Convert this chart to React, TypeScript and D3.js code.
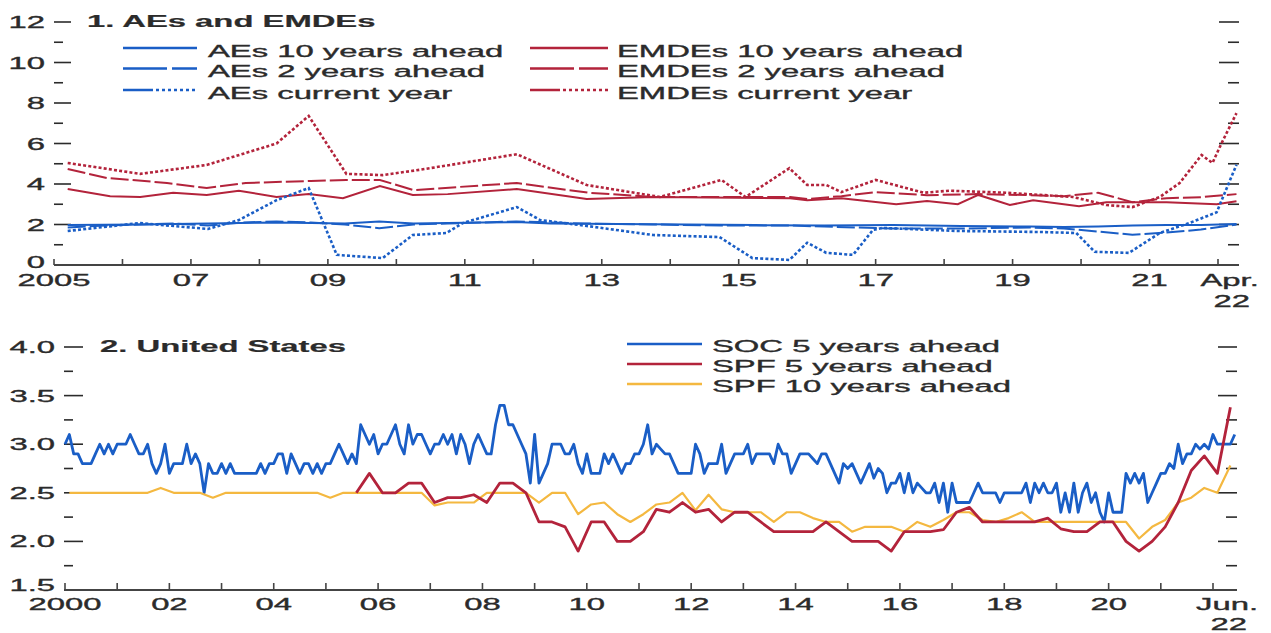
import * as React from "react";
import * as d3 from "d3";

// ---- panel 1: AEs and EMDEs (percent), [time, value] pairs
const aes10: [number, number][] = [
  [2005.2, 1.98], [2006.25, 2.0], [2007.25, 2.05], [2008.25, 2.1], [2008.75, 2.08],
  [2009.25, 2.05], [2009.75, 2.15], [2010.25, 2.05], [2011.25, 2.1], [2011.75, 2.12],
  [2012.25, 2.05], [2013.25, 2.02], [2014.25, 2.0], [2015.25, 1.97], [2016.25, 1.95],
  [2017.25, 1.97], [2018.25, 1.93], [2019.25, 1.9], [2019.75, 1.88], [2020.25, 1.9],
  [2020.75, 1.95], [2021.25, 1.97], [2021.75, 1.97], [2022.27, 2.02],
];
const aes2: [number, number][] = [
  [2005.2, 1.85], [2005.75, 1.95], [2006.25, 2.0], [2006.75, 2.05], [2007.25, 1.95],
  [2007.75, 2.1], [2008.25, 2.15], [2008.75, 2.1], [2009.25, 2.0], [2009.75, 1.82],
  [2010.25, 2.0], [2010.75, 2.05], [2011.25, 2.1], [2011.75, 2.15], [2012.25, 2.1],
  [2012.75, 2.05], [2013.75, 2.0], [2014.75, 1.95], [2015.75, 1.95], [2016.25, 1.9],
  [2016.75, 1.85], [2017.25, 1.8], [2018.25, 1.8], [2019.25, 1.85], [2019.75, 1.8],
  [2020.25, 1.65], [2020.75, 1.5], [2021.25, 1.6], [2021.75, 1.75], [2022.27, 2.0],
];
const aesCur: [number, number][] = [
  [2005.2, 1.68], [2006.25, 2.07], [2007.25, 1.78], [2007.7, 2.22], [2008.25, 3.2],
  [2008.72, 3.8], [2009.13, 0.5], [2009.8, 0.34], [2010.24, 1.48], [2010.73, 1.58],
  [2010.97, 2.07], [2011.76, 2.86], [2012.1, 2.22], [2012.78, 1.93], [2013.75, 1.48],
  [2014.72, 1.38], [2015.2, 0.34], [2015.74, 0.25], [2016.0, 1.1], [2016.28, 0.6],
  [2016.67, 0.5], [2016.96, 1.73], [2017.1, 1.83], [2018.2, 1.68], [2019.4, 1.63],
  [2019.93, 1.58], [2020.2, 0.65], [2020.7, 0.6], [2021.15, 1.58], [2021.58, 2.07],
  [2021.98, 2.6], [2022.27, 4.95],
];
const emdes10: [number, number][] = [
  [2005.2, 3.75], [2005.82, 3.4], [2006.26, 3.36], [2006.74, 3.57], [2007.23, 3.46],
  [2007.7, 3.67], [2008.25, 3.36], [2008.72, 3.5], [2009.22, 3.3], [2009.76, 3.9],
  [2010.24, 3.46], [2010.75, 3.5], [2011.76, 3.75], [2012.78, 3.26], [2013.75, 3.36],
  [2015.75, 3.3], [2016.0, 3.2], [2016.5, 3.3], [2017.3, 3.0], [2017.75, 3.16],
  [2018.2, 3.0], [2018.5, 3.46], [2018.96, 2.96], [2019.3, 3.2], [2019.97, 2.9],
  [2020.37, 3.1], [2021.25, 3.1], [2021.98, 3.0], [2022.27, 3.15],
];
const emdes2: [number, number][] = [
  [2005.2, 4.74], [2005.77, 4.3], [2006.65, 4.05], [2007.23, 3.8], [2007.8, 4.05],
  [2008.75, 4.15], [2009.27, 4.2], [2009.76, 4.2], [2010.25, 3.7], [2011.76, 4.05],
  [2012.8, 3.57], [2013.75, 3.36], [2014.75, 3.36], [2015.75, 3.36], [2016.0, 3.26],
  [2016.5, 3.4], [2017.0, 3.6], [2017.75, 3.45], [2018.5, 3.5], [2019.25, 3.45],
  [2019.75, 3.4], [2020.25, 3.57], [2020.75, 3.1], [2021.25, 3.3], [2021.75, 3.35],
  [2022.27, 3.5],
];
const emdesCur: [number, number][] = [
  [2005.2, 5.04], [2006.26, 4.5], [2007.23, 4.94], [2008.25, 6.0], [2008.72, 7.36],
  [2009.27, 4.5], [2009.8, 4.44], [2010.34, 4.7], [2011.76, 5.47], [2012.78, 3.95],
  [2013.85, 3.36], [2014.75, 4.2], [2015.1, 3.36], [2015.74, 4.78], [2016.0, 3.95],
  [2016.28, 3.95], [2016.5, 3.6], [2017.0, 4.2], [2017.7, 3.57], [2018.08, 3.67],
  [2018.9, 3.57], [2019.88, 3.36], [2020.37, 2.96], [2020.75, 2.86], [2021.15, 3.36],
  [2021.44, 4.05], [2021.76, 5.43], [2021.92, 5.04], [2022.05, 6.0], [2022.27, 7.5],
];

// ---- panel 2: United States
// SOC 5 years ahead, monthly Jan 2000 - Jun 2022
const soc2000 = [3.0, 3.1, 2.9, 2.9, 2.8, 2.8, 2.8, 2.9, 3.0, 2.9, 3.0, 2.9];
const soc2001 = [3.0, 3.0, 3.0, 3.1, 3.0, 2.9, 2.9, 3.0, 2.8, 2.7, 2.8, 3.0];
const soc2002 = [2.7, 2.8, 2.8, 2.8, 3.0, 2.8, 2.9, 2.8, 2.5, 2.8, 2.7, 2.7];
const soc2003 = [2.8, 2.7, 2.8, 2.7, 2.7, 2.7, 2.7, 2.7, 2.7, 2.8, 2.7, 2.8];
const soc2004 = [2.8, 2.9, 2.9, 2.7, 2.9, 2.8, 2.7, 2.8, 2.8, 2.7, 2.8, 2.7];
const soc2005 = [2.8, 2.8, 2.9, 3.0, 2.9, 2.8, 2.9, 2.8, 3.2, 3.1, 3.0, 3.1];
const soc2006 = [2.9, 3.0, 3.0, 3.1, 3.2, 3.0, 2.9, 3.2, 3.0, 3.1, 3.1, 3.0];
const soc2007 = [2.9, 3.0, 3.0, 3.1, 3.0, 3.1, 2.9, 3.1, 3.0, 2.8, 3.0, 3.1];
const soc2008 = [3.0, 2.9, 2.9, 3.2, 3.4, 3.4, 3.2, 3.2, 3.1, 3.0, 2.9, 2.6];
const soc2009 = [3.1, 2.6, 2.7, 2.8, 3.0, 3.0, 3.0, 2.9, 2.9, 3.0, 2.8, 2.7];
const soc2010 = [2.9, 2.7, 2.7, 2.7, 2.9, 2.8, 2.9, 2.8, 2.7, 2.8, 2.8, 2.9];
const soc2011 = [2.9, 3.0, 3.2, 2.9, 3.0, 2.95, 2.9, 2.9, 2.8, 2.7, 2.7, 2.7];
const soc2012 = [2.7, 3.0, 2.9, 2.7, 2.8, 2.8, 2.8, 3.0, 2.7, 2.8, 2.9, 2.9];
const soc2013 = [2.9, 3.0, 2.8, 2.9, 2.9, 2.9, 2.9, 2.8, 3.0, 2.9, 2.9, 2.7];
const soc2014 = [2.8, 2.9, 2.9, 2.9, 2.85, 2.8, 2.9, 2.9, 2.8, 2.7, 2.6, 2.8];
const soc2015 = [2.75, 2.8, 2.7, 2.6, 2.7, 2.8, 2.65, 2.75, 2.7, 2.5, 2.6, 2.6];
const soc2016 = [2.7, 2.5, 2.7, 2.5, 2.6, 2.55, 2.5, 2.5, 2.6, 2.4, 2.6, 2.3];
const soc2017 = [2.6, 2.4, 2.4, 2.4, 2.4, 2.5, 2.6, 2.5, 2.5, 2.5, 2.5, 2.4];
const soc2018 = [2.5, 2.5, 2.5, 2.5, 2.5, 2.6, 2.4, 2.6, 2.5, 2.6, 2.5, 2.5];
const soc2019 = [2.6, 2.3, 2.5, 2.3, 2.6, 2.3, 2.5, 2.6, 2.4, 2.5, 2.3, 2.2];
const soc2020 = [2.5, 2.3, 2.3, 2.3, 2.7, 2.6, 2.7, 2.6, 2.7, 2.4, 2.5, 2.6];
const soc2021 = [2.7, 2.7, 2.8, 2.75, 3.0, 2.8, 2.9, 2.9, 3.0, 2.95, 3.0, 2.95];
const soc2022 = [3.1, 3.0, 3.0, 3.0, 3.0, 3.1];
const socValues = [
  ...soc2000, ...soc2001, ...soc2002, ...soc2003, ...soc2004, ...soc2005,
  ...soc2006, ...soc2007, ...soc2008, ...soc2009, ...soc2010, ...soc2011,
  ...soc2012, ...soc2013, ...soc2014, ...soc2015, ...soc2016, ...soc2017,
  ...soc2018, ...soc2019, ...soc2020, ...soc2021, ...soc2022,
];

// SPF 10 years ahead, quarterly (Feb, May, Aug, Nov) 2000 - May 2022
const spf10Values = [
  2.5, 2.5, 2.5, 2.5, 2.5, 2.5, 2.5, 2.55, 2.5, 2.5, 2.5, 2.45,
  2.5, 2.5, 2.5, 2.5, 2.5, 2.5, 2.5, 2.5, 2.45, 2.5, 2.5, 2.5,
  2.5, 2.5, 2.5, 2.5, 2.37, 2.4, 2.4, 2.4, 2.5, 2.5, 2.5, 2.5,
  2.4, 2.5, 2.5, 2.28, 2.38, 2.4, 2.28, 2.2, 2.28, 2.38, 2.4, 2.5,
  2.32, 2.48, 2.33, 2.3, 2.3, 2.3, 2.2, 2.3, 2.3, 2.24, 2.2, 2.2,
  2.1, 2.15, 2.15, 2.15, 2.1, 2.2, 2.15, 2.22, 2.3, 2.3, 2.22, 2.2,
  2.24, 2.3, 2.2, 2.2, 2.2, 2.2, 2.2, 2.2, 2.2, 2.2, 2.03, 2.15,
  2.22, 2.4, 2.45, 2.55, 2.5, 2.78,
];
// SPF 5 years ahead, quarterly Aug 2005 - May 2022
const spf5Values = [
  2.5, 2.7,
  2.5, 2.5, 2.6, 2.6, 2.4, 2.45, 2.45, 2.48, 2.4, 2.6, 2.6, 2.5,
  2.2, 2.2, 2.15, 1.9, 2.2, 2.2, 2.0, 2.0, 2.1, 2.33, 2.3, 2.4,
  2.3, 2.33, 2.2, 2.3, 2.3, 2.2, 2.1, 2.1, 2.1, 2.1, 2.2, 2.1,
  2.0, 2.0, 2.0, 1.9, 2.1, 2.1, 2.1, 2.12, 2.3, 2.35, 2.2, 2.2,
  2.2, 2.2, 2.2, 2.24, 2.13, 2.1, 2.1, 2.2, 2.2, 2.0, 1.9, 2.0,
  2.15, 2.4, 2.73, 2.88, 2.7, 3.38,
];

const topYearLabels = ["2005", "07", "09", "11", "13", "15", "17", "19", "21"];
const botYearLabels = ["2000", "02", "04", "06", "08", "10", "12", "14", "16", "18", "20"];
const topLegend = [
  "AEs 10 years ahead", "AEs 2 years ahead", "AEs current year",
  "EMDEs 10 years ahead", "EMDEs 2 years ahead", "EMDEs current year",
];
const botLegend = ["SOC 5 years ahead", "SPF 5 years ahead", "SPF 10 years ahead"];

const BLUE = "#1a5ec6";
const RED = "#b3233b";
const YELLOW = "#f4b840";
const INK = "#2b2b2b";
const FONT = "'Liberation Sans', Arial, Helvetica, sans-serif";
const SX = 1.93;

const T = ({ x, y, anchor = "start", weight = 400, children }: any) => (
  <text
    transform={`translate(${x},${y}) scale(${SX},1)`}
    textAnchor={anchor}
    fontWeight={weight}
    fill={INK}
    stroke={INK}
    strokeWidth={weight > 400 ? 0.2 : 0.35}
  >
    {children}
  </text>
);

export default function App() {
  // panel 1 scales
  const tx = d3.scaleLinear().domain([2005, 2022]).range([54, 1218]);
  const ty = d3.scaleLinear().domain([0, 12]).range([265, 22]);
  const tRight = 1239;
  // panel 2 scales
  const bx = d3.scaleLinear().domain([2000, 2022]).range([65, 1213]);
  const by = d3.scaleLinear().domain([1.5, 4]).range([590, 347]);
  const bRight = 1237;

  const tLine = d3.line<[number, number]>().x(d => tx(d[0])).y(d => ty(d[1]));
  const bLine = d3.line<[number, number]>().x(d => bx(d[0])).y(d => by(d[1]));

  const socPts: [number, number][] = socValues.map((v, i) => [2000 + i / 12, v]);
  const qMonths = [1, 4, 7, 10];
  const spf10Pts: [number, number][] = spf10Values.map((v, i) => [
    2000 + Math.floor(i / 4) + qMonths[i % 4] / 12, v,
  ]);
  const spf5Pts: [number, number][] = spf5Values.map((v, i) => {
    const k = i + 2; // starts at Q3 2005
    return [2005 + Math.floor(k / 4) + qMonths[k % 4] / 12, v];
  });

  const topTicks = d3.range(1, 13);
  const botTicks = d3.range(1.75, 4.01, 0.25);

  const dotted = "3,2.2";
  const dashed = "18,4";

  return (
    <svg
      width={1271}
      height={633}
      style={{ position: "absolute", left: 0, top: 0, background: "#fff" }}
      fontFamily={FONT}
      fontSize={17}
    >
      <rect width={1271} height={633} fill="#fff" />

      {/* ---------------- panel 1 ---------------- */}
      <g>
        {topTicks.map(v => {
          const major = v % 2 === 0;
          return (
            <g key={v} stroke={INK} strokeWidth={1.6}>
              <line x1={54} x2={54 + (major ? 17 : 9)} y1={ty(v)} y2={ty(v)} />
              <line x1={tRight - (major ? 20 : 11)} x2={tRight} y1={ty(v)} y2={ty(v)} />
            </g>
          );
        })}
        {d3.range(0, 13, 2).map(v => (
          <T key={v} x={45} y={ty(v) + 6 - (v === 0 ? 3 : 0)} anchor="end">
            {v}
          </T>
        ))}
        <line x1={54} x2={tRight} y1={265} y2={265} stroke="#444" strokeWidth={1.8} />
        {d3.range(2005, 2023).map(yr => (
          <line key={yr} x1={tx(yr)} x2={tx(yr)} y1={265} y2={259} stroke="#444" strokeWidth={1.6} />
        ))}
        {topYearLabels.map((lab, i) => (
          <T key={lab} x={tx(2005 + i * 2)} y={286} anchor="middle">
            {lab}
          </T>
        ))}
        <T x={tx(2022.17)} y={286} anchor="middle">Apr.</T>
        <T x={tx(2022.2)} y={307} anchor="middle">22</T>

        <T x={87} y={27} weight={700}>1. AEs and EMDEs</T>

        <g fill="none" strokeWidth={2}>
          <path d={tLine(aes10)!} stroke={BLUE} />
          <path d={tLine(aes2)!} stroke={BLUE} strokeDasharray={dashed} />
          <path d={tLine(emdes10)!} stroke={RED} />
          <path d={tLine(emdes2)!} stroke={RED} strokeDasharray={dashed} />
          <path d={tLine(emdesCur)!} stroke={RED} strokeDasharray={dotted} strokeWidth={2.6} />
          <path d={tLine(aesCur)!} stroke={BLUE} strokeDasharray={dotted} strokeWidth={2.6} />
        </g>

        {/* legend */}
        {topLegend.map((lab, i) => {
          const col = i < 3 ? 0 : 1;
          const row = i % 3;
          const lx0 = col === 0 ? 123 : 530;
          const lx1 = col === 0 ? 197 : 608;
          const txt = col === 0 ? 208 : 617;
          const ly = [48, 68.5, 90][row];
          const color = col === 0 ? BLUE : RED;
          const dash = row === 0 ? undefined : row === 1 ? "44,5" : "30,3,3,3,3,3,3,3,3,3,3,3,3,3,3,3,3,3,3,3";
          return (
            <g key={lab}>
              <line x1={lx0} x2={lx1} y1={ly} y2={ly} stroke={color} strokeWidth={2.6} strokeDasharray={dash} />
              <T x={txt} y={ly + 8.5}>{lab}</T>
            </g>
          );
        })}
      </g>

      {/* ---------------- panel 2 ---------------- */}
      <g>
        {botTicks.map(v => {
          const major = Math.abs(v * 2 - Math.round(v * 2)) < 1e-6;
          return (
            <g key={v} stroke={INK} strokeWidth={1.6}>
              <line x1={64} x2={64 + (major ? 19 : 9)} y1={by(v)} y2={by(v)} />
              <line x1={bRight - (major ? 19 : 11)} x2={bRight} y1={by(v)} y2={by(v)} />
            </g>
          );
        })}
        {d3.range(1.5, 4.01, 0.5).map(v => (
          <T key={v} x={55} y={by(v) + 6 - (v === 1.5 ? 5 : 0)} anchor="end">
            {v.toFixed(1)}
          </T>
        ))}
        <line x1={64} x2={bRight} y1={590} y2={590} stroke="#444" strokeWidth={1.8} />
        {d3.range(2000, 2023).map(yr => (
          <line key={yr} x1={bx(yr)} x2={bx(yr)} y1={590} y2={583} stroke="#444" strokeWidth={1.6} />
        ))}
        {botYearLabels.map((lab, i) => (
          <T key={lab} x={bx(2000 + i * 2)} y={610} anchor="middle">
            {lab}
          </T>
        ))}
        <T x={bx(2022.27)} y={610} anchor="middle">Jun.</T>
        <T x={bx(2022.3)} y={630} anchor="middle">22</T>

        <T x={100} y={352} weight={700}>2. United States</T>

        <g fill="none" strokeLinejoin="round">
          <path d={bLine(socPts)!} stroke={BLUE} strokeWidth={2.8} />
          <path d={bLine(spf10Pts)!} stroke={YELLOW} strokeWidth={2.2} />
          <path d={bLine(spf5Pts)!} stroke={RED} strokeWidth={2.8} />
        </g>

        {botLegend.map((lab, i) => {
          const ly = 344 + i * 20;
          const color = [BLUE, RED, YELLOW][i];
          return (
            <g key={lab}>
              <line x1={627} x2={702} y1={ly} y2={ly} stroke={color} strokeWidth={2.6} />
              <T x={712} y={ly + 8}>{lab}</T>
            </g>
          );
        })}
      </g>
    </svg>
  );
}
